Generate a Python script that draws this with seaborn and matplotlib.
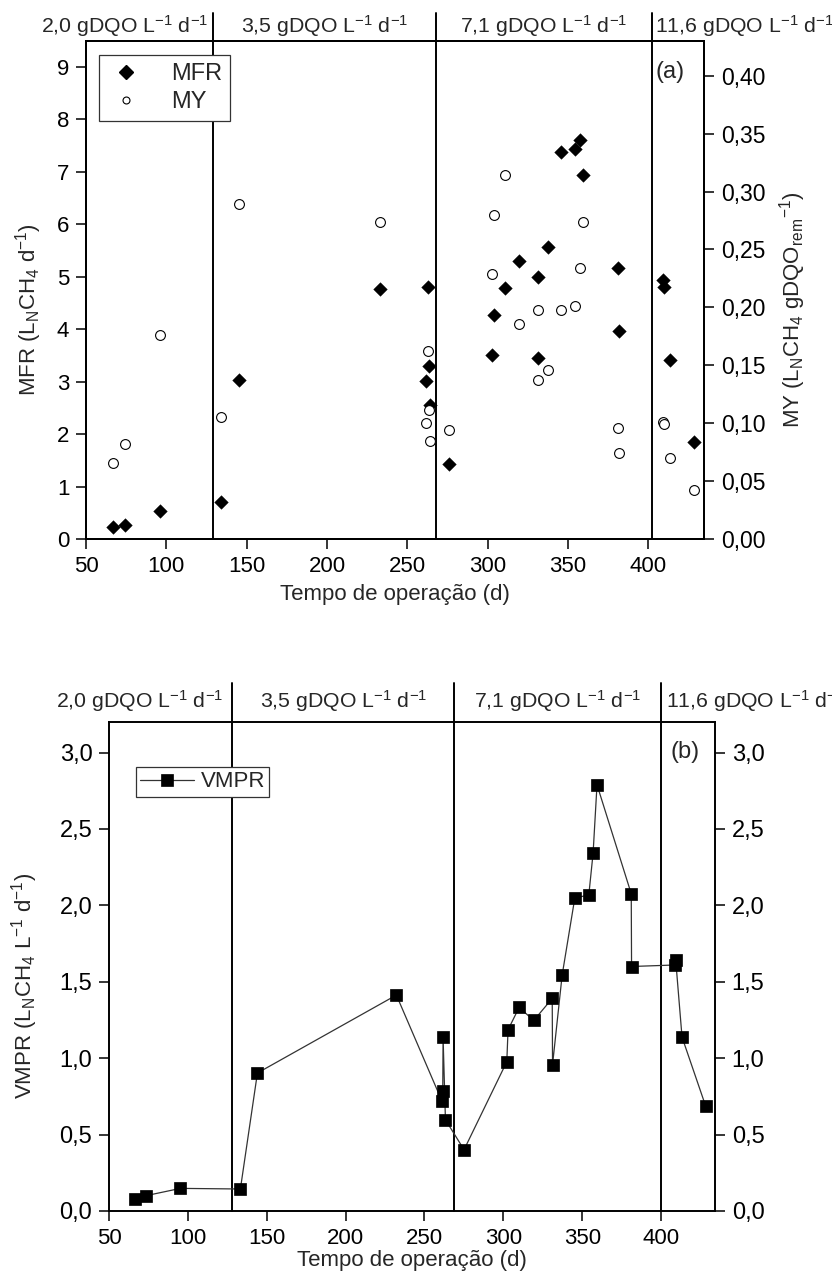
#!/usr/bin/env python3
# -*- coding: utf-8 -*-
"""
MFR / MY (painel a) e VMPR (painel b) ao longo do tempo de operação,
separados pelas fases de carga orgânica aplicada
"""

import matplotlib
matplotlib.use('Agg')
import matplotlib.pyplot as plt
import matplotlib.transforms as mtransforms
from matplotlib.lines import Line2D
import seaborn as sns
import pandas as pd
import warnings

warnings.filterwarnings('ignore')

# ---- dados painel (a) ----
dias_a = [67, 74, 96, 134, 145, 233, 263, 263.3, 261.7, 264, 276, 302.6, 303.8,
          310.6, 319.6, 331.2, 331.4, 337.7, 345.8, 354.5, 357.4, 359.2,
          381.2, 381.4, 409.3, 409.7, 413.6, 428.4]
mfr = [0.22, 0.26, 0.53, 0.70, 3.03, 4.76, 4.81, 3.30, 3.02, 2.55, 1.42, 3.50, 4.26,
       4.78, 5.30, 5.00, 3.45, 5.56, 7.37, 7.44, 7.60, 6.93,
       5.16, 3.97, 4.93, 4.81, 3.41, 1.85]
my = [0.066, 0.082, 0.176, 0.105, 0.289, 0.274, 0.162, 0.111, 0.100, 0.085, 0.094, 0.229, 0.280,
      0.314, 0.186, 0.198, 0.137, 0.146, 0.198, 0.201, 0.234, 0.274,
      0.096, 0.074, 0.101, 0.099, 0.070, 0.042]

# ---- dados painel (b) ----
dias_b = [66.3, 73.3, 95.3, 133.3, 144.1, 232.2, 261.2, 261.6, 261.8, 263.3, 275.1,
          302.2, 303.0, 310.0, 319.3, 331.0, 331.2, 337.3, 345.3, 354.2, 356.9, 359.4,
          381.1, 381.3, 409.0, 409.3, 413.3, 428.2]
vmpr = [0.080, 0.100, 0.148, 0.144, 0.903, 1.413, 0.717, 0.783, 1.138, 0.597, 0.401,
        0.977, 1.186, 1.332, 1.247, 1.391, 0.957, 1.544, 2.047, 2.069, 2.340, 2.789,
        2.076, 1.600, 1.610, 1.640, 1.138, 0.689]

# fases de carga orgânica
fases = ['2,0', '3,5', '7,1', '11,6']
limites_a = [129, 268, 402]
limites_b = [128, 269, 400]

# eixos
x_ticks = [50, 100, 150, 200, 250, 300, 350, 400]
mfr_ticks = [0, 1, 2, 3, 4, 5, 6, 7, 8, 9]
my_ticks = [0.00, 0.05, 0.10, 0.15, 0.20, 0.25, 0.30, 0.35, 0.40]
my_tick_labels = ['0,00', '0,05', '0,10', '0,15', '0,20', '0,25', '0,30', '0,35', '0,40']
vmpr_ticks = [0.0, 0.5, 1.0, 1.5, 2.0, 2.5, 3.0]
vmpr_tick_labels = ['0,0', '0,5', '1,0', '1,5', '2,0', '2,5', '3,0']

SUP = '$\\mathregular{^{-1}}$'
LW = 1.4


def setup_style():
    """estilo base + fonte tipo Arial"""
    sns.set_style('ticks')
    plt.rcParams['font.family'] = ['Liberation Sans', 'DejaVu Sans']
    plt.rcParams['mathtext.fontset'] = 'custom'
    plt.rcParams['mathtext.rm'] = 'Liberation Sans'
    plt.rcParams['mathtext.it'] = 'Liberation Sans:italic'
    plt.rcParams['axes.linewidth'] = LW
    plt.rcParams['axes.edgecolor'] = 'black'


def fase_label(f):
    return f + ' gDQO L' + SUP + ' d' + SUP


def style_axis(ax, sides, ysize=16):
    for s in ['left', 'right', 'top', 'bottom']:
        ax.spines[s].set_visible(True)
        ax.spines[s].set_linewidth(LW)
        ax.spines[s].set_color('black')
    ax.tick_params(axis='both', direction='out', length=7, width=1.1,
                   labelsize=16, pad=5, colors='black')
    ax.tick_params(axis='y', labelsize=ysize,
                   left=('left' in sides), labelleft=('left' in sides),
                   right=('right' in sides), labelright=('right' in sides))
    ax.tick_params(axis='x', top=False, labeltop=False)


def draw_phases(ax, limites, y_top, y_text, off_left, off_right):
    """linhas verticais das fases e rótulos acima do gráfico"""
    for x in limites:
        ax.axvline(x, ymin=0, ymax=y_top, color='black', linewidth=LW,
                   clip_on=False, zorder=3)
    trans = mtransforms.blended_transform_factory(ax.transData, ax.transAxes)
    kw = dict(transform=trans, fontsize=15.3, va='baseline', clip_on=False)
    ax.text(limites[0] - off_left, y_text, fase_label(fases[0]), ha='right', **kw)
    ax.text((limites[0] + limites[1]) / 2, y_text, fase_label(fases[1]), ha='center', **kw)
    ax.text((limites[1] + limites[2]) / 2, y_text, fase_label(fases[2]), ha='center', **kw)
    ax.text(limites[2] + off_right, y_text, fase_label(fases[3]), ha='left', **kw)


def create_panel_a(fig):
    ax = fig.add_axes([86 / 832, 1 - 539 / 1274, 618 / 832, 498 / 1274])
    ax2 = ax.twinx()

    df = pd.DataFrame({'dia': dias_a, 'mfr': mfr, 'my': my})

    sns.scatterplot(data=df, x='dia', y='mfr', marker='D', s=48, color='black',
                    edgecolor='black', linewidth=0.3, ax=ax, zorder=4, legend=False)
    sns.scatterplot(data=df, x='dia', y='my', marker='o', s=50, color='white',
                    edgecolor='black', linewidth=0.8, ax=ax2, zorder=4, legend=False)

    ax.set_xlim(50, 434.6)
    ax.set_ylim(0, 9.49)
    ax2.set_ylim(0, 0.43)
    ax.set_xticks(x_ticks)
    ax.set_xticklabels([str(v) for v in x_ticks])
    ax.set_yticks(mfr_ticks)
    ax.set_yticklabels([str(v) for v in mfr_ticks])
    ax2.set_yticks(my_ticks)
    ax2.set_yticklabels(my_tick_labels)

    style_axis(ax, ['left'])
    style_axis(ax2, ['right'], ysize=16.5)

    ax.set_xlabel('Tempo de operação (d)', fontsize=16)
    ax.xaxis.set_label_coords(0.5, -0.09)
    ax.set_ylabel('MFR (L$\\mathregular{_N}$CH$\\mathregular{_4}$ d' + SUP + ')', fontsize=16)
    ax.yaxis.set_label_coords(-0.068, 0.46)
    ax2.set_ylabel('MY (L$\\mathregular{_N}$CH$\\mathregular{_4}$ gDQO'
                   '$\\mathregular{_{rem}}$$\\mathregular{^{-1}}$)', fontsize=16)
    ax2.yaxis.set_label_coords(1.118, 0.46)

    draw_phases(ax, limites_a, 1.056, 1.016, 3, 2)

    ax.text(0.922, 0.938, '(a)', transform=ax.transAxes, fontsize=17,
            ha='left', va='center')

    handles = [
        Line2D([], [], marker='D', color='black', linestyle='none', markersize=7),
        Line2D([], [], marker='o', markerfacecolor='white', markeredgecolor='black',
               markeredgewidth=0.8, linestyle='none', markersize=5),
    ]
    leg = ax2.legend(handles, ['MFR', 'MY'], loc='upper left',
                     bbox_to_anchor=(0.021, 0.972), borderaxespad=0, fontsize=17,
                     frameon=True, fancybox=False, framealpha=1, edgecolor='#333333',
                     handlelength=1.6, handletextpad=1.1, borderpad=0.35,
                     labelspacing=0.25)
    leg.get_frame().set_linewidth(0.9)
    leg.set_zorder(10)
    return ax


def create_panel_b(fig):
    ax = fig.add_axes([109 / 832, 1 - 1211 / 1274, 606 / 832, 489 / 1274])

    df = pd.DataFrame({'dia': dias_b, 'vmpr': vmpr})
    sns.lineplot(data=df, x='dia', y='vmpr', sort=False, estimator=None,
                 color='#333333', linewidth=0.9, marker='s', markersize=8,
                 markerfacecolor='black', markeredgecolor='black',
                 markeredgewidth=0.5, ax=ax, label='VMPR', zorder=4)

    ax.set_xlim(50, 434.2)
    ax.set_ylim(0, 3.2)
    ax.set_xticks(x_ticks)
    ax.set_xticklabels([str(v) for v in x_ticks])
    ax.set_yticks(vmpr_ticks)
    ax.set_yticklabels(vmpr_tick_labels)

    style_axis(ax, ['left', 'right'], ysize=17)

    ax.set_xlabel('Tempo de operação (d)', fontsize=16)
    ax.xaxis.set_label_coords(0.5, -0.08)
    ax.set_ylabel('VMPR (L$\\mathregular{_N}$CH$\\mathregular{_4}$ L' + SUP + ' d' + SUP + ')',
                  fontsize=16)
    ax.yaxis.set_label_coords(-0.114, 0.46)

    draw_phases(ax, limites_b, 1.080, 1.029, 5.5, 3)

    ax.text(0.926, 0.939, '(b)', transform=ax.transAxes, fontsize=17,
            ha='left', va='center')

    leg = ax.legend(loc='upper left', bbox_to_anchor=(0.0446, 0.908), borderaxespad=0,
                    fontsize=16, frameon=True, fancybox=False, framealpha=1,
                    edgecolor='#333333', handlelength=2.4, handletextpad=0.3,
                    borderpad=0.2)
    leg.get_frame().set_linewidth(0.9)
    return ax


def main():
    setup_style()
    fig = plt.figure(figsize=(8.32, 12.74), dpi=100)
    fig.patch.set_facecolor('white')
    create_panel_a(fig)
    create_panel_b(fig)
    fig.savefig('out.png', dpi=100, facecolor='white')
    print('out.png salvo')


if __name__ == '__main__':
    main()
